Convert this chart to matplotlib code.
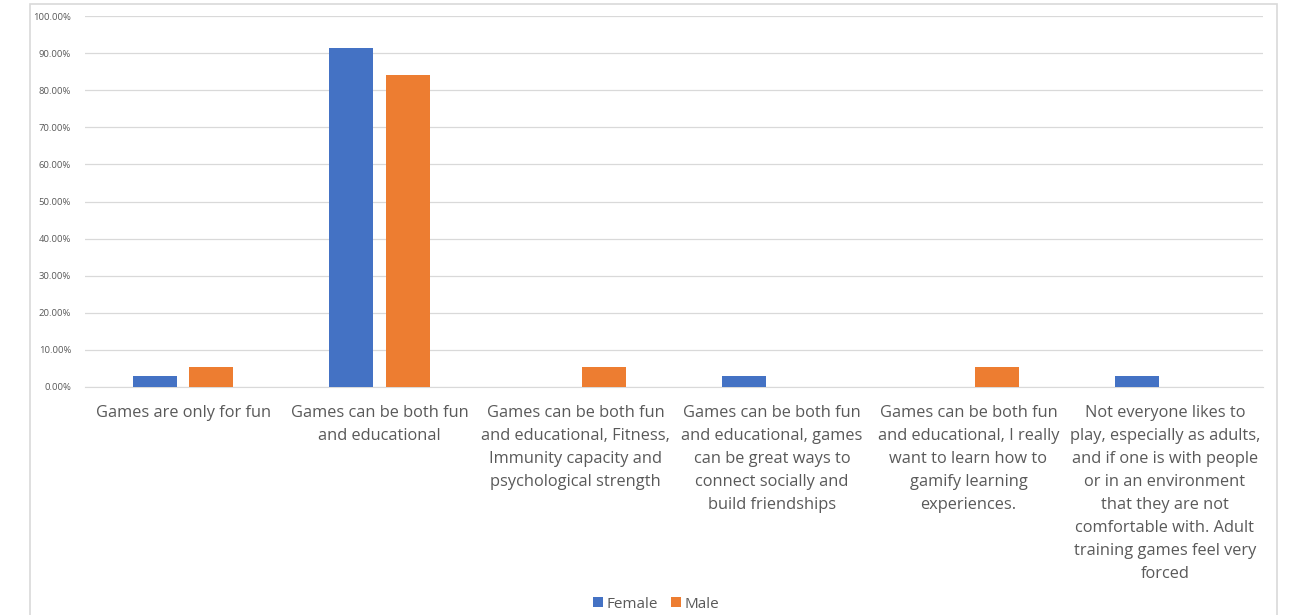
import matplotlib.pyplot as plt
import numpy as np
from matplotlib.patches import Rectangle
from matplotlib.ticker import FuncFormatter

categories = [
    "Games are only for fun",
    "Games can be both fun\nand educational",
    "Games can be both fun\nand educational, Fitness,\nImmunity capacity and\npsychological strength",
    "Games can be both fun\nand educational, games\ncan be great ways to\nconnect socially and\nbuild friendships",
    "Games can be both fun\nand educational, I really\nwant to learn how to\ngamify learning\nexperiences.",
    "Not everyone likes to\nplay, especially as adults,\nand if one is with people\nor in an environment\nthat they are not\ncomfortable with. Adult\ntraining games feel very\nforced",
]
female = [2.86, 91.43, 0, 2.86, 0, 2.86]
male = [5.26, 84.21, 5.26, 0, 5.26, 0]

blue = "#4472C4"
orange = "#ED7D31"
grey_text = "#595959"

plt.rcParams['font.family'] = ['Open Sans', 'DejaVu Sans']

fig = plt.figure(figsize=(12.94, 6.15), dpi=100)
W, H = 1294, 615

# outer chart frame
fig.patches.append(Rectangle((30 / W, -0.05), (1277 - 30) / W, 1.05 - 4 / H,
                             transform=fig.transFigure, fill=False,
                             edgecolor="#d9d9d9", linewidth=1.2))

ax = fig.add_axes([85 / W, 1 - 387 / H, (1263 - 85) / W, (387 - 16) / H])

x = np.arange(len(categories))
w = 0.224
ax.bar(x - 0.143, female, width=w, color=blue, label="Female", zorder=3)
ax.bar(x + 0.143, male, width=w, color=orange, label="Male", zorder=3)

ax.set_xlim(-0.5, len(categories) - 0.5)
ax.set_ylim(0, 100)
ax.set_yticks(np.arange(0, 101, 10))
ax.yaxis.set_major_formatter(FuncFormatter(lambda v, p: f"{v:.2f}%"))
ax.tick_params(axis='y', length=0, labelsize=6.8, labelcolor=grey_text, pad=10)
ax.grid(axis='y', color="#d9d9d9", linewidth=0.9, zorder=0)

ax.set_xticks(x)
ax.set_xticklabels(categories, fontsize=11.8, color=grey_text, linespacing=1.58)
ax.tick_params(axis='x', length=0, pad=13)

for s in ["top", "right", "left"]:
    ax.spines[s].set_visible(False)
ax.spines["bottom"].set_color("#d9d9d9")

fig.legend(loc="center", bbox_to_anchor=(656 / W, 1 - 604 / H), ncol=2, frameon=False,
           fontsize=11, labelcolor=grey_text, handlelength=0.65, handleheight=0.65,
           handletextpad=0.2, columnspacing=0.9)

fig.savefig("out.png", dpi=100)
